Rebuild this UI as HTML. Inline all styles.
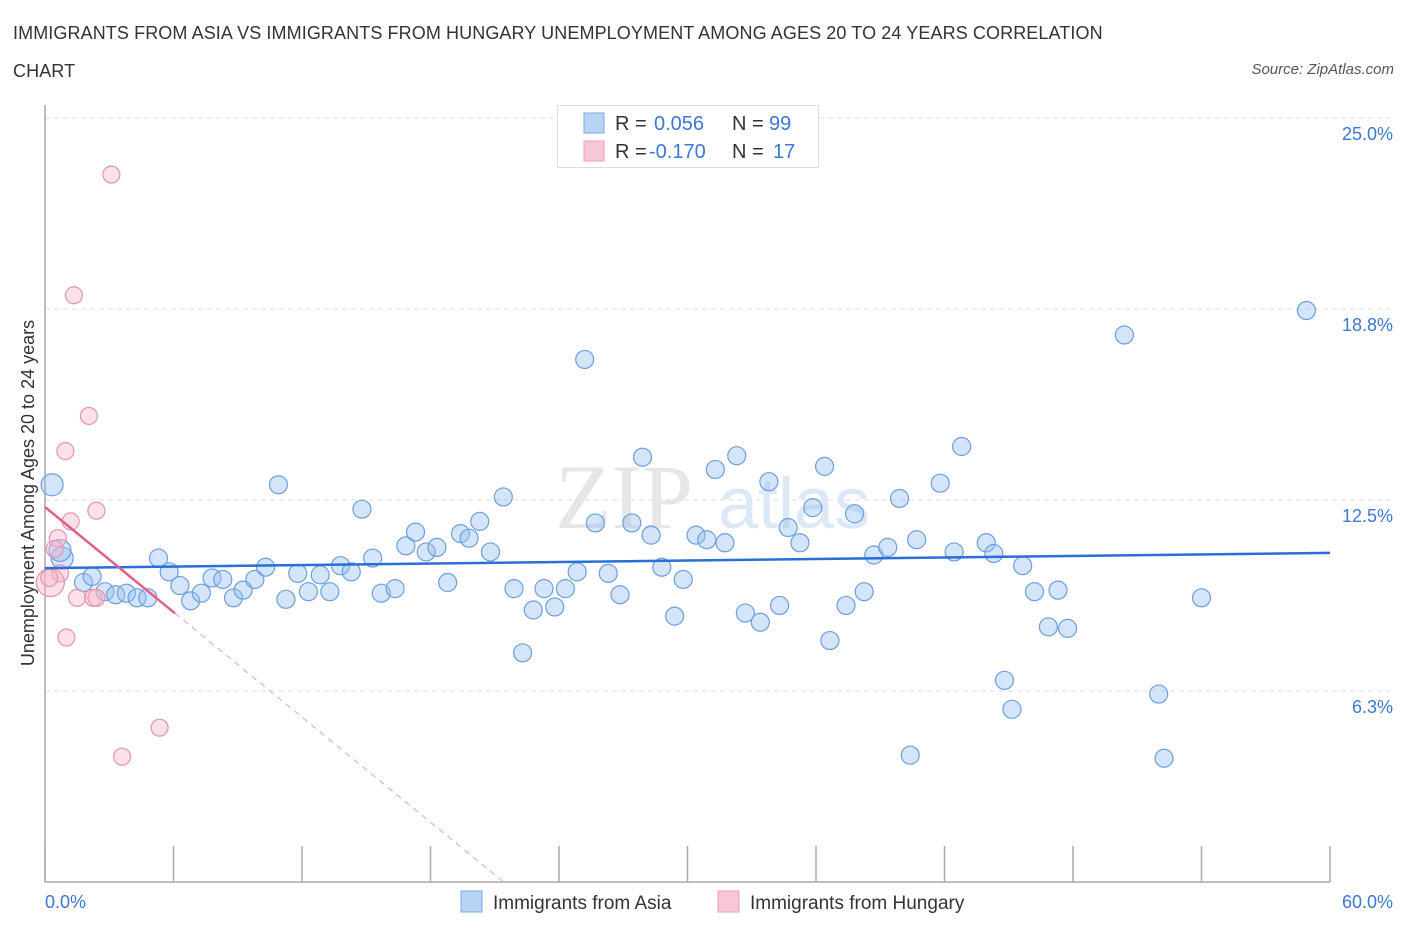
<!DOCTYPE html>
<html><head><meta charset="utf-8">
<style>
body{margin:0;background:#fff;font-family:"Liberation Sans",sans-serif;}
#wrap{position:relative;width:1406px;height:930px;overflow:hidden;}
.title{position:absolute;left:13px;top:14px;font-size:18px;color:#333;line-height:38px;letter-spacing:0.1px}
.src{position:absolute;right:12px;top:61px;font-size:15px;color:#555;font-style:italic}
</style></head><body>
<div id="wrap">
<div class="title">IMMIGRANTS FROM ASIA VS IMMIGRANTS FROM HUNGARY UNEMPLOYMENT AMONG AGES 20 TO 24 YEARS CORRELATION<br>CHART</div>
<div class="src">Source: ZipAtlas.com</div>
<svg id="svg" width="1406" height="930" style="position:absolute;left:0;top:0"></svg>
</div>
<script>
const xTicks=[0,6,12,18,24,30,36,42,48,54,60];
const yTicks=[6.25,12.5,18.75,25];
const yTickLabels=["6.3%","12.5%","18.8%","25.0%"];
const asiaX=[0.33,0.8,0.7,1.8,2.2,2.8,3.3,3.8,4.3,4.8,5.3,5.8,6.3,6.8,7.3,7.8,8.3,8.8,9.25,9.8,10.3,10.9,11.25,11.8,12.3,12.85,13.3,13.8,14.3,14.8,15.3,15.7,16.35,16.85,17.3,17.8,18.3,18.8,19.4,19.8,20.3,20.8,21.4,21.9,22.3,22.8,23.3,23.8,24.3,24.85,25.2,25.7,26.3,26.85,27.4,27.9,28.3,28.8,29.4,29.8,30.4,30.9,31.3,31.75,32.3,32.7,33.4,33.8,34.3,34.7,35.25,35.85,36.4,36.65,37.4,37.8,38.25,38.7,39.35,39.9,40.4,40.7,41.8,42.45,42.8,43.95,44.3,44.8,45.15,45.65,46.2,46.85,47.3,47.75,50.4,52.0,52.25,54.0,58.9];
const asiaY=[13.0,10.6,10.85,9.8,10.0,9.5,9.4,9.45,9.3,9.3,10.6,10.15,9.7,9.2,9.45,9.95,9.9,9.3,9.55,9.9,10.3,13.0,9.25,10.1,9.5,10.05,9.5,10.35,10.15,12.2,10.6,9.45,9.6,11.0,11.45,10.8,10.95,9.8,11.4,11.25,11.8,10.8,12.6,9.6,7.5,8.9,9.6,9.0,9.6,10.15,17.1,11.75,10.1,9.4,11.75,13.9,11.35,10.3,8.7,9.9,11.35,11.2,13.5,11.1,13.95,8.8,8.5,13.1,9.05,11.6,11.1,12.25,13.6,7.9,9.05,12.05,9.5,10.7,10.95,12.55,4.15,11.2,13.05,10.8,14.25,11.1,10.75,6.6,5.65,10.35,9.5,8.35,9.55,8.3,17.9,6.15,4.05,9.3,18.7];
const hungX=[3.1,1.35,2.05,0.95,2.4,1.2,0.6,0.45,0.7,0.25,0.2,1.5,2.25,2.4,1.0,5.35,3.6];
const hungY=[23.15,19.2,15.25,14.1,12.15,11.8,11.25,10.9,10.1,9.8,9.95,9.3,9.3,9.3,8.0,5.05,4.1];
const asiaTrend=[10.27,10.77];
const hungTrend=[12.27,-0.573];
const X0=45,X1=1330,Y0=882,Ytop=118;
const sx=v=>X0+v*(X1-X0)/60, sy=v=>Y0-v*(Y0-Ytop)/25;
const svg=document.getElementById('svg');const NS='http://www.w3.org/2000/svg';
function mk(t,a,p){const e=document.createElementNS(NS,t);for(const k in a)e.setAttribute(k,a[k]);(p||svg).appendChild(e);return e;}
mk('line',{x1:X0,x2:1395,y1:Ytop,y2:Ytop,stroke:'#ddd','stroke-dasharray':'5,4'});
yTicks.forEach((t,i)=>{
 const g=mk('line',{x1:X0,x2:1395,y1:sy(t),y2:sy(t),stroke:'#ddd','stroke-dasharray':'5,4'});
 
 
 const l=mk('text',{x:1393,y:sy(t)+22,'text-anchor':'end','font-size':18,fill:'#3b78d8'});
 l.textContent=yTickLabels[i];
 
 
});
const wm=mk('text',{x:555,y:528,'font-size':92,fill:'#e6e6e6','font-family':'Liberation Serif'});wm.textContent='ZIP';


const wm2=mk('text',{x:718,y:528,'font-size':72,fill:'#dde8f6'});wm2.textContent='atlas';
mk('line',{x1:X0,x2:X0,y1:105,y2:Y0,stroke:'#aaa','stroke-width':1.5});
mk('line',{x1:X0,x2:X1,y1:Y0,y2:Y0,stroke:'#aaa','stroke-width':1.5});
xTicks.forEach(t=>{const tk=mk('line',{x1:sx(t),x2:sx(t),y1:Y0-36,y2:Y0,stroke:'#aaa','stroke-width':1.5});
 
 });
const xl=mk('text',{x:45,y:908,'font-size':18,fill:'#3b78d8'});xl.textContent='0.0%';


const xr=mk('text',{x:1393,y:908,'text-anchor':'end','font-size':18,fill:'#3b78d8'});xr.textContent='60.0%';


const yt=mk('text',{x:0,y:0,'font-size':18,fill:'#333','text-anchor':'middle',transform:'translate(34,493) rotate(-90)'});yt.textContent='Unemployment Among Ages 20 to 24 years';


asiaX.forEach((x,i)=>{const c=mk('circle',{cx:sx(x),cy:sy(asiaY[i]),r:(x<1?11:9),fill:'rgba(150,190,240,0.4)',stroke:'#6b9fe0','stroke-width':1.2});
 
 });
hungX.forEach((x,i)=>{const c=mk('circle',{cx:sx(x),cy:sy(hungY[i]),r:(i==9?14:8.5),fill:'rgba(248,180,200,0.4)',stroke:'#e893ad','stroke-width':1.2});
 
 });
const at=mk('line',{x1:sx(0),y1:sy(asiaTrend[0]),x2:sx(60),y2:sy(asiaTrend[1]),stroke:'#2a6fd6','stroke-width':2.5});


const hz=-hungTrend[0]/hungTrend[1];
const hs=mk('line',{x1:sx(0),y1:sy(hungTrend[0]),x2:sx(6.07),y2:sy(hungTrend[0]+hungTrend[1]*6.07),stroke:'#e0608a','stroke-width':2.5});


const hd=mk('line',{x1:sx(6.07),y1:sy(hungTrend[0]+hungTrend[1]*6.07),x2:sx(hz),y2:sy(0),stroke:'#e8a0b8','stroke-width':1,'stroke-dasharray':'6,5'});


const lg=mk('g',{});


mk('rect',{x:557.5,y:105.5,width:261,height:62,fill:'#fff',stroke:'#ddd'},lg);
mk('rect',{x:584,y:113,width:20,height:20,fill:'#b8d4f5',stroke:'#7aa7e3'},lg);
mk('rect',{x:584,y:141,width:20,height:20,fill:'#f9c6d5',stroke:'#eaa0b8'},lg);
function tx(x,y,s,c){const t=mk('text',{x:x,y:y,'font-size':20,fill:c},lg);t.textContent=s;}
tx(615,130,'R = ','#333');tx(654,130,'0.056','#3b78d8');tx(732,130,'N = ','#333');tx(769,130,'99','#3b78d8');
tx(615,158,'R = ','#333');tx(649,158,'-0.170','#3b78d8');tx(732,158,'N = ','#333');tx(773,158,'17','#3b78d8');
const bl=mk('g',{});


mk('rect',{x:461,y:891,width:21,height:21,fill:'#b8d4f5',stroke:'#7aa7e3'},bl);
mk('rect',{x:718,y:891,width:21,height:21,fill:'#f9c6d5',stroke:'#eaa0b8'},bl);
const b1=mk('text',{x:493,y:909,'font-size':19,fill:'#333'},bl);b1.textContent='Immigrants from Asia';
const b2=mk('text',{x:750,y:909,'font-size':19,fill:'#333'},bl);b2.textContent='Immigrants from Hungary';
</script>
</body></html>
